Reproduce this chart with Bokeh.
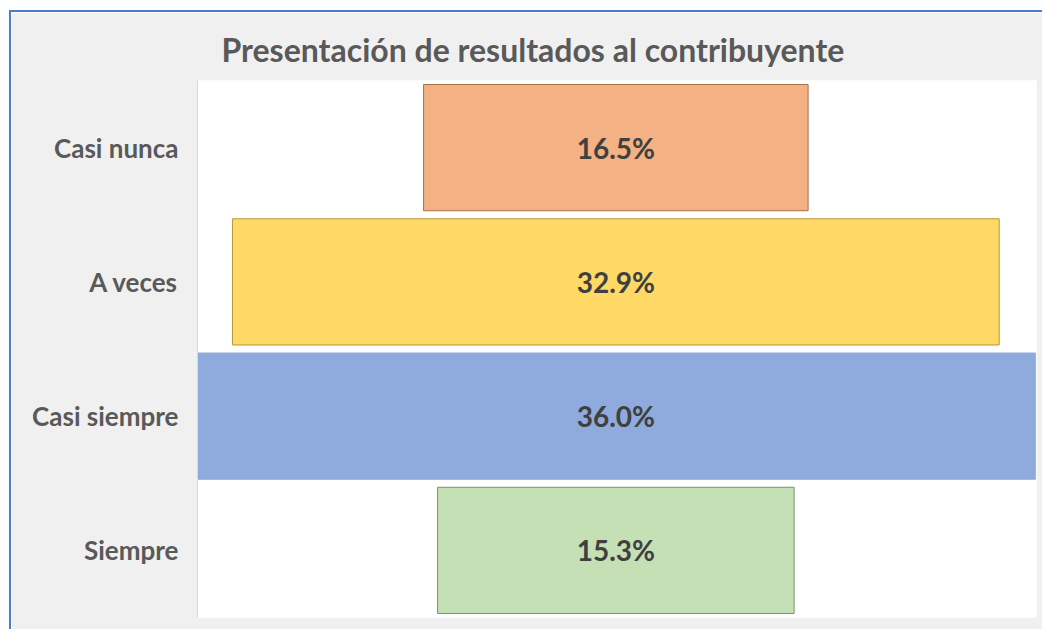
from bokeh.plotting import figure
from bokeh.models import FactorRange, ColumnDataSource, Range1d
from bokeh.core.properties import value
from bokeh.embed import file_html
from bokeh.resources import INLINE

categories = ["Casi nunca", "A veces", "Casi siempre", "Siempre"]
percentages = [16.5, 32.9, 36.0, 15.3]
fill_colors = ["#F4B183", "#FFD966", "#8FAADC", "#C5E0B4"]
line_colors = ["#A8704A", "#B8963A", "#8FAADC", "#7C9368"]

src = ColumnDataSource(dict(
    cat=categories,
    val=percentages,
    left=[-v / 2 for v in percentages],
    right=[v / 2 for v in percentages],
    fill=fill_colors,
    line=line_colors,
    label=["%.1f%%" % v for v in percentages],
))

p = figure(
    width=1033, height=619,
    y_range=FactorRange(factors=list(reversed(categories)), range_padding=0),
    x_range=Range1d(-17.95, 18.05),
    output_backend="svg", toolbar_location=None,
    title="Presentación de resultados al contribuyente",
    min_border_left=186, min_border_right=8, min_border_bottom=14, min_border_top=68,
)

p.background_fill_color = "white"
p.border_fill_color = "#F0F0F0"
p.outline_line_color = None

p.title.text_font = "Lato"
p.title.text_font_size = "32px"
p.title.text_font_style = "bold"
p.title.text_color = "#595959"
p.title.align = "left"
p.title.offset = 24
p.title.standoff = 23

p.hbar(y="cat", left="left", right="right", height=0.94, source=src,
       fill_color="fill", line_color="line", line_width=1)

p.text(x=0, y="cat", text="label", source=src,
       text_align="center", text_baseline="middle",
       text_font=value("Lato"), text_font_style="bold",
       text_font_size="28px", text_color="#404040")

p.xaxis.visible = False
p.xgrid.visible = False
p.ygrid.visible = False

ax = p.yaxis[0]
ax.major_tick_line_color = None
ax.minor_tick_line_color = None
ax.axis_line_color = "#D9D9D9"
ax.major_label_text_font = "Lato"
ax.major_label_text_font_style = "bold"
ax.major_label_text_font_size = "26px"
ax.major_label_text_color = "#595959"
ax.major_label_standoff = 13

p.styles = {"border-top": "2px solid #4A7CC9", "border-left": "2px solid #4A7CC9",
            "margin-left": "9px", "margin-top": "10px"}

open("out.html", "w").write(file_html(p, INLINE))
